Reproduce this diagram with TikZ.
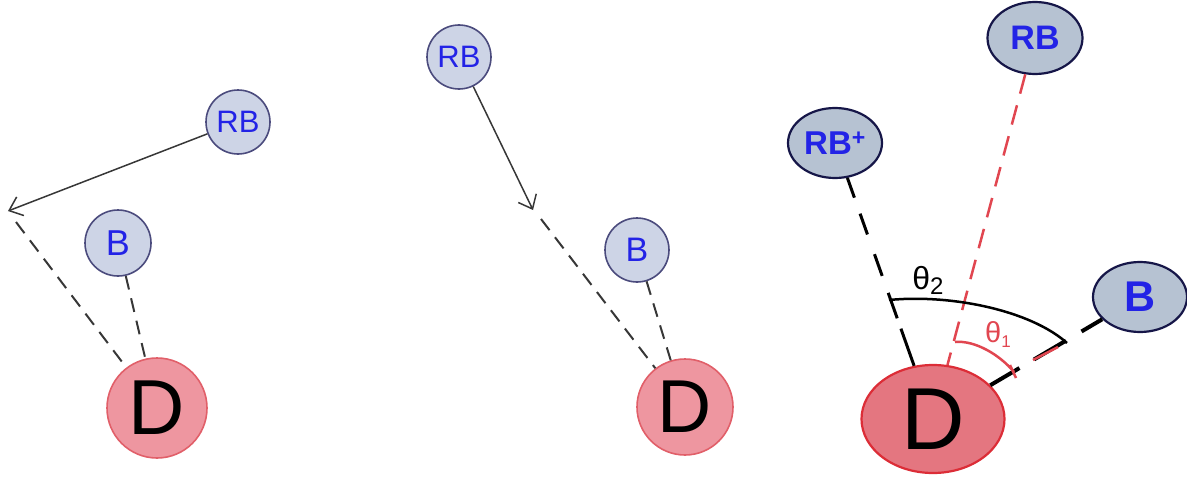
\documentclass[tikz,border=0pt]{standalone}
\usepackage{fontspec}
\setmainfont{Liberation Sans}
\usetikzlibrary{shapes.geometric,arrows.meta}
\definecolor{ballfill}{RGB}{205,212,230}
\definecolor{balledge}{RGB}{75,75,125}
\definecolor{dfill}{RGB}{238,150,160}
\definecolor{dedge}{RGB}{225,95,105}
\definecolor{ballfillB}{RGB}{182,194,210}
\definecolor{balledgeB}{RGB}{22,22,72}
\definecolor{dfillB}{RGB}{228,118,128}
\definecolor{dedgeB}{RGB}{220,45,55}
\definecolor{txtblue}{RGB}{35,35,230}
\definecolor{linegray}{RGB}{55,55,55}
\definecolor{redline}{RGB}{225,70,80}
\tikzset{
  ball/.style={circle, draw=balledge, line width=1.6pt, fill=ballfill, inner sep=0pt, text=txtblue},
  dball/.style={circle, draw=dedge, line width=1.6pt, fill=dfill, inner sep=0pt, text=black},
  ellball/.style={ellipse, draw=balledgeB, line width=2.2pt, fill=ballfillB, inner sep=0pt, text=txtblue, font=\bfseries},
  dell/.style={ellipse, draw=dedgeB, line width=2.2pt, fill=dfillB, inner sep=0pt, text=black},
  arrowline/.style={draw=linegray, line width=1.5pt, -{Straight Barb[length=12pt,width=20pt,line width=1.5pt]}},
  dashline/.style={draw=linegray, line width=2pt, dash pattern=on 14pt off 9pt},
}
\begin{document}
\begin{tikzpicture}[x=1pt,y=-1pt]
\useasboundingbox (0,0) rectangle (1187,479);
% ---------- panel 1
\node[ball, minimum size=64pt, font=\fontsize{31}{31}\selectfont] (rb1) at (238,122) {RB};
\node[ball, minimum size=66pt, font=\fontsize{36}{36}\selectfont] (b1) at (118,243) {B};
\node[dball, minimum size=100pt, font=\fontsize{78}{78}\selectfont] (d1) at (157,408) {D};
\coordinate (t1) at (8,211);
\coordinate (s1) at (16,222);
\draw[arrowline] (rb1) -- (t1);
\draw[dashline] (s1) -- (d1);
\draw[dashline] (b1) -- (d1);
% ---------- panel 2
\node[ball, minimum size=64pt, font=\fontsize{31}{31}\selectfont] (rb2) at (459,57) {RB};
\node[ball, minimum size=64pt, font=\fontsize{34}{34}\selectfont] (b2) at (637,250) {B};
\node[dball, minimum size=96pt, font=\fontsize{75}{75}\selectfont] (d2) at (685,407) {D};
\coordinate (t2) at (533,210);
\coordinate (s2) at (541,219);
\draw[arrowline] (rb2) -- (t2);
\draw[dashline] (s2) -- (d2);
\draw[dashline] (b2) -- (d2);
% ---------- panel 3
\node[ellball, minimum width=95pt, minimum height=72pt, font=\bfseries\fontsize{34}{34}\selectfont] (rb3) at (1035,38) {RB};
\node[ellball, minimum width=94pt, minimum height=70pt, font=\bfseries\fontsize{33}{33}\selectfont] (rbp3) at (835,143) {RB\textsuperscript{+}};
\node[ellball, minimum width=94pt, minimum height=70pt, font=\bfseries\fontsize{43}{43}\selectfont] (b3) at (1140,297) {B};
\node[dell, minimum width=143pt, minimum height=108pt, font=\fontsize{88}{88}\selectfont] (d3) at (933,419) {D};
\draw[redline, line width=2.5pt, dash pattern=on 20pt off 12pt] (rb3) -- (d3);
\draw[black, line width=3pt, dash pattern=on 21pt off 17pt on 22pt off 21pt on 23pt off 18pt on 27pt off 11pt on 60pt] (rbp3) -- (d3);
\draw[black, line width=4pt, dash pattern=on 24pt off 18pt on 37pt off 17pt on 60pt] (b3) -- (d3);
% angle arcs
\coordinate (a2s) at (889,300);
\coordinate (a2e) at (1067,343);
\draw[black, line width=2.5pt] (a2s) .. controls (950,294) and (1030,310) .. (a2e);
\coordinate (a1s) at (955,342);
\coordinate (a1e) at (1014,372);
\draw[redline, line width=2.5pt] (a1s) .. controls (975,340) and (1000,355) .. (a1e);
\coordinate (k1) at (1010,365);
\coordinate (k2) at (1016,378);
\draw[redline, line width=2.5pt] (k1) -- (k2);
\coordinate (m1) at (1033,360);
\coordinate (m2) at (1058,347);
\draw[redline, line width=2.5pt] (m1) -- (m2);
\node[text=black, font=\fontsize{32}{32}\selectfont] (th2) at (928,280) {θ\raisebox{-5pt}{\fontsize{24}{24}\selectfont 2}};
\node[text=redline, font=\fontsize{29}{29}\selectfont] (th1) at (998,334) {θ\raisebox{-5pt}{\fontsize{17}{17}\selectfont 1}};
\end{tikzpicture}
\end{document}
